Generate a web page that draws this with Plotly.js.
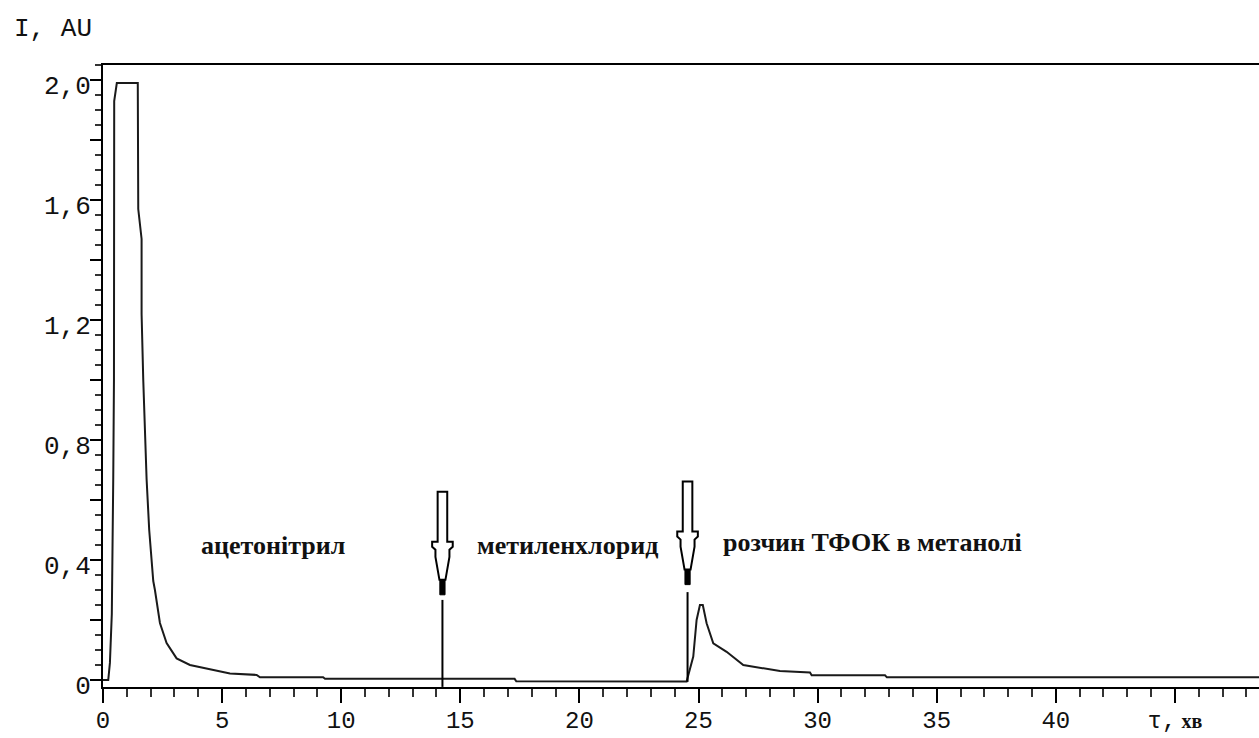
<!DOCTYPE html>
<html>
<head>
<meta charset="utf-8">
<script src="https://cdn.plot.ly/plotly-3.0.1.min.js"></script>
<style>
  html, body { margin: 0; padding: 0; background: #ffffff; }
  #chart { width: 1259px; height: 738px; }
</style>
</head>
<body>
<div id="chart"></div>
<script>
// ---- chromatogram data (time in min, intensity in AU) ----
const time = [0, 0.22, 0.29, 0.37, 0.43, 0.46, 0.47, 0.58, 1.46, 1.48, 1.62, 1.62, 1.69, 1.76, 1.83, 1.94,
  2.11, 2.18, 2.39, 2.67, 3.09, 3.65, 4.35, 5.33, 6.45, 6.59, 9.24, 9.32, 17.28, 17.35, 24.50,
  24.78, 24.92, 25.06, 25.18, 25.34, 25.62, 26.18, 26.88, 27.72, 28.42, 29.68, 29.75, 32.83, 32.91, 48.53];
const intensity = [0, 0, 0.057, 0.22, 0.67, 1.0, 1.93, 1.99, 1.99, 1.57, 1.47, 1.22, 1.0, 0.83, 0.67, 0.5,
  0.33, 0.30, 0.19, 0.123, 0.072, 0.05, 0.039, 0.022, 0.017, 0.009, 0.009, 0.004, 0.004, -0.004, -0.005,
  0.078, 0.2, 0.25, 0.25, 0.189, 0.122, 0.094, 0.05, 0.04, 0.03, 0.025, 0.016, 0.016, 0.009, 0.009];

// ---- injection arrows ----
const injectionTime = [14.25, 24.54];
const arrowTipLevel = [0.284, 0.318];
const markerTopLevel = [0.267, 0.293];
const markerBottomLevel = [-0.023, -0.006];

// ---- text labels ----
const labelText = ["ацетонітрил", "метиленхлорид", "розчин ТФОК в метанолі"];
const labelTime = [7.15, 19.5, 32.3];
const labelLevel = [0.45, 0.45, 0.457];

// ---- ticks ----
const xTickVals = [0, 5, 10, 15, 20, 25, 30, 35, 40, 45];
const xTickText = ["0", "5", "10", "15", "20", "25", "30", "35", "40",
  "τ,<span style=\"font-family:Liberation Serif;font-weight:bold;font-size:20px\"> хв</span>"];
const yTickVals = [0, 0.2, 0.4, 0.6, 0.8, 1.0, 1.2, 1.4, 1.6, 1.8, 2.0];
const yTickText = ["0", "", "0,4", "", "0,8", "", "1,2", "", "1,6", "", "2,0"];

const monoFont = "Liberation Mono, DejaVu Sans Mono, monospace";

const trace = {
  x: time, y: intensity, type: "scatter", mode: "lines",
  line: { color: "#1a1a1a", width: 2 },
  hoverinfo: "skip"
};

// hollow arrow outline, in pixels relative to the arrow tip (y up)
const arrowPath = "M -4.8,103 L 4.8,103 L 4.8,53 L 10.3,53 L 10.3,48 L 7,45 L 7,38 L 3,15 " +
  "L -3,15 L -7,38 L -7,45 L -10.3,48 L -10.3,53 L -4.8,53 Z";
const tipPath = "M -2.6,0 L 2.6,0 L 2.6,15 L -2.6,15 Z";

const shapes = [];
injectionTime.forEach((t, i) => {
  shapes.push({
    type: "line", xref: "x", yref: "y",
    x0: t, x1: t, y0: markerBottomLevel[i], y1: markerTopLevel[i],
    line: { color: "#000", width: 2 }
  });
  shapes.push({
    type: "path", xref: "x", yref: "y",
    xsizemode: "pixel", ysizemode: "pixel",
    xanchor: t, yanchor: arrowTipLevel[i],
    path: arrowPath, fillcolor: "#ffffff",
    line: { color: "#000", width: 2 }
  });
  shapes.push({
    type: "path", xref: "x", yref: "y",
    xsizemode: "pixel", ysizemode: "pixel",
    xanchor: t, yanchor: arrowTipLevel[i],
    path: tipPath, fillcolor: "#000",
    line: { color: "#000", width: 1 }
  });
});

const annotations = labelText.map((txt, i) => ({
  text: txt, x: labelTime[i], y: labelLevel[i], xref: "x", yref: "y",
  showarrow: false, xanchor: "center", yanchor: "middle",
  font: { family: "Liberation Serif, DejaVu Serif, serif", size: 26, color: "#111", weight: "bold" }
}));
annotations.push({
  text: "I, AU", xref: "paper", yref: "paper", x: -0.079, y: 1.058,
  xanchor: "left", yanchor: "middle", showarrow: false,
  font: { family: monoFont, size: 26, color: "#111" }
});

const layout = {
  width: 1259, height: 738,
  margin: { l: 103, r: 0, t: 65, b: 51, pad: 0 },
  paper_bgcolor: "#ffffff", plot_bgcolor: "#ffffff",
  showlegend: false,
  xaxis: {
    range: [0, 48.53], showgrid: false, zeroline: false,
    showline: true, linecolor: "#000", linewidth: 2, mirror: true,
    tickmode: "array", tickvals: xTickVals, ticktext: xTickText,
    ticks: "outside", ticklen: 14, tickwidth: 2, tickcolor: "#000",
    ticklabelstandoff: -4,
    minor: { tick0: 0, dtick: 1, ticks: "outside", ticklen: 8, tickwidth: 2, tickcolor: "#333" },
    tickfont: { family: monoFont, size: 24, color: "#111" }
  },
  yaxis: {
    range: [-0.0233, 2.05], showgrid: false, zeroline: false,
    showline: true, linecolor: "#000", linewidth: 2,
    tickmode: "array", tickvals: yTickVals, ticktext: yTickText,
    ticks: "outside", ticklen: 11, tickwidth: 2, tickcolor: "#000",
    ticklabelstandoff: -6, ticklabelshift: 5,
    minor: { tick0: 0, dtick: 0.05, ticks: "outside", ticklen: 6, tickwidth: 2, tickcolor: "#333" },
    tickfont: { family: monoFont, size: 26, color: "#111" }
  },
  shapes: shapes,
  annotations: annotations
};

Plotly.newPlot("chart", [trace], layout, { staticPlot: true, displayModeBar: false });
</script>
</body>
</html>
